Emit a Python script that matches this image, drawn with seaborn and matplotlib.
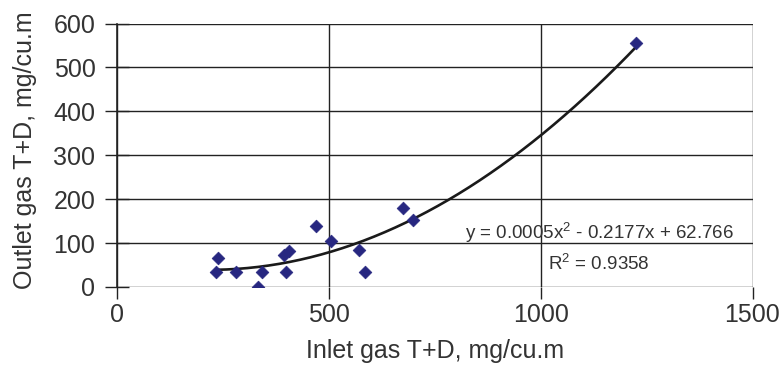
import numpy as np
import pandas as pd
import matplotlib
matplotlib.use("Agg")
import matplotlib.pyplot as plt
import seaborn as sns

# Data
inlet = [233, 239, 280, 332, 343, 395, 398, 406, 469, 504, 571, 585, 676, 699, 1225]
outlet = [35, 65, 35, 0, 35, 73, 35, 82, 138, 105, 85, 35, 180, 153, 555]
# Trendline coefficients shown on the chart (a*x^2 + b*x + c)
coef = [0.0005, -0.2177, 62.766]
eq_text = "y = 0.0005x$^2$ - 0.2177x + 62.766"
r2_text = "R$^2$ = 0.9358"
xticks = [0, 500, 1000, 1500]
yticks = [0, 100, 200, 300, 400, 500, 600]

sns.set_theme(style="white")
plt.rcParams['font.family'] = ['Liberation Sans', 'DejaVu Sans']
plt.rcParams['mathtext.fontset'] = 'custom'
plt.rcParams['mathtext.rm'] = 'Liberation Sans'

df = pd.DataFrame({"inlet": inlet, "outlet": outlet})
xs = np.linspace(min(inlet), max(inlet), 200)
trend = pd.DataFrame({"x": xs, "y": np.polyval(coef, xs)})

W, H = 781, 367
L, R, T, B = 117, 752.5, 23.5, 287
fig = plt.figure(figsize=(7.81, 3.67), dpi=100)
ax = fig.add_axes([L/W, 1-B/H, (R-L)/W, (B-T)/H])

sns.lineplot(data=trend, x="x", y="y", ax=ax, color="#1a1a1a", linewidth=1.9, zorder=3)
sns.scatterplot(data=df, x="inlet", y="outlet", ax=ax, marker="D", s=42,
                color="#272780", edgecolor="#272780", linewidth=0.5, zorder=4)

ax.set_xlim(0, 1500)
ax.set_ylim(0, 600)
ax.set_xticks(xticks)
ax.set_yticks(yticks)
ax.grid(True, color="#222222", linewidth=1.0)
ax.set_axisbelow(True)
for s in ax.spines.values():
    s.set_visible(False)
ax.spines['left'].set_visible(True)
ax.spines['left'].set_color("#222222")
ax.spines['left'].set_linewidth(1.2)
ax.tick_params(axis='y', direction='inout', length=17, width=1.0, color="#222222",
               labelsize=18, labelcolor="#333333", pad=7, left=True)
ax.tick_params(axis='x', direction='out', length=8.6, width=1.0, color="#222222",
               labelsize=18, labelcolor="#333333", pad=3, bottom=True)
ax.set_xlabel("Inlet gas T+D, mg/cu.m", fontsize=18, color="#333333")
ax.set_ylabel("Outlet gas T+D, mg/cu.m", fontsize=18, color="#333333")
ax.xaxis.set_label_coords(0.501, (B - 339) / (B - T))
ax.yaxis.set_label_coords((37 - L) / (R - L), (B - 150) / (B - T))

ax.text(1138, 124, eq_text, ha="center", va="center", fontsize=13.5, color="#333333")
ax.text(1138, 53, r2_text, ha="center", va="center", fontsize=13.5, color="#333333")

fig.savefig("out.png", dpi=100)
